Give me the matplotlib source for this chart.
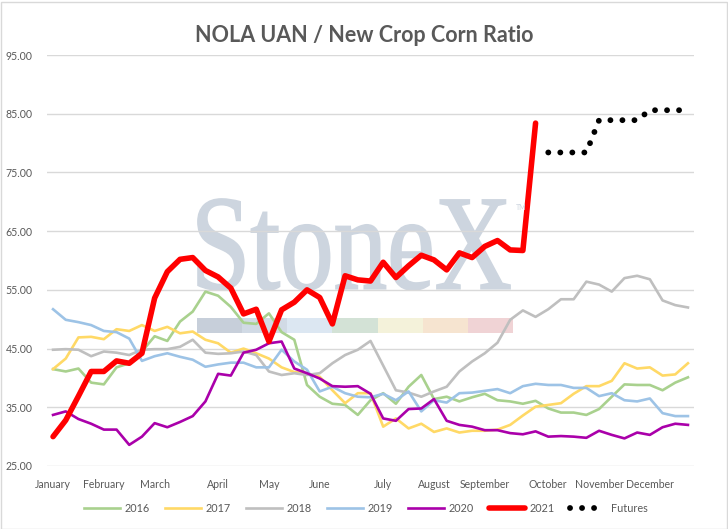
import numpy as np
import matplotlib
matplotlib.use("Agg")
import matplotlib.pyplot as plt
from matplotlib.patches import PathPatch, Rectangle
from matplotlib.textpath import TextPath
from matplotlib.font_manager import FontProperties
from matplotlib.transforms import Affine2D

# Týdenní poměr NOLA UAN / new crop kukuřice (51 týdnů)
months = ['January', 'February', 'March', 'April', 'May', 'June', 'July',
          'August', 'September', 'October', 'November', 'December']
month_week = [0, 4, 8, 13, 17, 21, 26, 30, 34, 39, 43, 47]

y2016 = [41.5, 41.1, 41.6, 39.2, 38.9, 41.8, 42.5, 44.5, 47.1, 46.3, 49.6, 51.3, 54.7,
         54.0, 52.1, 49.4, 49.2, 51.0, 47.8, 46.5, 38.8, 36.8, 35.6, 35.4, 33.7, 36.2,
         37.4, 35.6, 38.5, 40.5, 36.4, 36.8, 36.0, 36.7, 37.3, 36.2, 36.0, 35.6, 36.1,
         34.8, 34.1, 34.1, 33.7, 34.7, 36.8, 38.9, 38.8, 38.8, 37.9, 39.2, 40.1]
y2017 = [41.5, 43.3, 46.9, 47.0, 46.6, 48.3, 48.0, 49.0, 48.0, 48.7, 47.6, 47.9, 46.5,
         45.9, 44.3, 45.0, 44.2, 43.3, 41.8, 41.0, 40.8, 40.2, 37.9, 35.7, 37.4, 37.4,
         31.7, 33.1, 31.4, 32.2, 30.8, 31.4, 30.7, 31.0, 31.0, 31.2, 32.0, 33.6, 35.1,
         35.4, 35.7, 37.3, 38.6, 38.6, 39.5, 42.5, 41.6, 41.8, 40.4, 40.6, 42.5]
y2018 = [44.8, 44.9, 44.8, 43.7, 44.5, 44.3, 43.9, 44.8, 44.9, 44.9, 45.3, 46.5, 44.3,
         44.1, 44.2, 44.5, 43.9, 41.1, 40.5, 40.8, 40.5, 40.8, 42.5, 43.9, 44.8, 46.3,
         42.1, 37.9, 37.5, 36.8, 37.7, 38.5, 41.1, 42.8, 44.2, 46.0, 49.9, 51.5, 50.4,
         51.7, 53.4, 53.4, 56.4, 55.9, 54.7, 57.0, 57.4, 56.8, 53.2, 52.4, 52.0]
y2019 = [51.7, 49.9, 49.5, 49.0, 48.0, 47.8, 46.7, 42.9, 43.7, 44.2, 43.6, 43.1, 41.9,
         42.3, 42.6, 42.6, 41.8, 41.8, 44.8, 42.8, 41.4, 37.7, 38.5, 37.4, 36.8, 36.7,
         37.3, 36.2, 37.7, 34.3, 36.2, 35.8, 37.4, 37.5, 37.8, 38.1, 37.4, 38.6, 39.0,
         38.8, 38.8, 38.3, 38.3, 36.9, 37.4, 36.2, 36.0, 36.5, 34.0, 33.5, 33.5]
y2020 = [33.7, 34.3, 33.0, 32.2, 31.2, 31.2, 28.6, 30.0, 32.3, 31.6, 32.5, 33.5, 36.0,
         40.7, 40.4, 44.3, 44.8, 45.9, 46.2, 41.6, 40.8, 39.9, 38.6, 38.5, 38.6, 37.3,
         33.1, 32.7, 34.7, 34.8, 36.4, 32.7, 32.0, 31.7, 31.1, 31.1, 30.6, 30.4, 30.9,
         30.0, 30.1, 30.0, 29.8, 31.0, 30.3, 29.7, 30.7, 30.3, 31.6, 32.2, 32.0]
y2021 = [30.0, 32.8, 36.9, 41.1, 41.1, 42.9, 42.5, 44.2, 53.6, 58.1, 60.2, 60.5, 58.3,
         57.2, 55.3, 50.9, 51.7, 46.2, 51.6, 52.9, 55.0, 53.7, 49.2, 57.4, 56.7, 56.5,
         59.7, 57.1, 59.1, 60.9, 60.1, 58.4, 61.3, 60.5, 62.4, 63.4, 61.8, 61.7, 83.4]
futures_start = 39
futures = [78.4, 78.4, 78.4, 78.4, 83.9, 83.9, 83.9, 83.9, 85.6, 85.6, 85.6, 85.6]

W, H = 728, 529
plt.rcParams['font.family'] = ['Lato', 'DejaVu Sans']
txt = '#595959'

fig = plt.figure(figsize=(W / 100, H / 100), dpi=100)
ax = fig.add_axes([46.7 / W, 1 - 466 / H, (694.3 - 46.7) / W, (466 - 55) / H])

# vodoznak StoneX
fp = FontProperties(family='Liberation Serif')
tp = TextPath((0, 0), 'StoneX', size=100, prop=fp)
ext = tp.get_extents()
x0, x1, yb, yt = 198, 510, H - 290, H - 199
tr = (Affine2D().translate(-ext.x0, -ext.y0)
      .scale((x1 - x0) / ext.width, (yt - yb) / ext.height)
      .translate(x0, yb).scale(1 / W, 1 / H) + fig.transFigure)
ax.add_patch(PathPatch(tp, transform=tr, facecolor='#CDD5DF', edgecolor='#CDD5DF', lw=1.3,
                       zorder=0.1, clip_on=False))
fig.text(516 / W, 1 - 210 / H, 'TM', fontsize=5, color='#CDD5DF', zorder=0.1)
bar_cols = ['#C7CFDA', '#D1DAE5', '#DCE7F2', '#D3E2D6', '#F4F2DA', '#F6E4D0', '#F0D3D5']
seg = (513 - 197) / len(bar_cols)
for i, c in enumerate(bar_cols):
    ax.add_patch(Rectangle(((197 + i * seg) / W, 1 - 333.3 / H), seg / W, 15.6 / H,
                           transform=fig.transFigure, facecolor=c, edgecolor='none',
                           zorder=0.1, clip_on=False))

wk = np.arange(len(y2016))
ax.plot(wk, y2016, color='#A9D18E', lw=1.9, label='2016', zorder=3)
ax.plot(wk, y2017, color='#FFD966', lw=1.9, label='2017', zorder=3)
ax.plot(wk, y2018, color='#BFBFBF', lw=1.9, label='2018', zorder=3)
ax.plot(wk, y2019, color='#9DC3E6', lw=1.9, label='2019', zorder=3)
ax.plot(wk, y2020, color='#AA00AA', lw=1.9, label='2020', zorder=3)
ax.plot(np.arange(len(y2021)), y2021, color='#FF0000', lw=4, label='2021', zorder=4,
        solid_joinstyle='round', solid_capstyle='round')
ax.plot(np.arange(futures_start, futures_start + len(futures)), futures, color='black',
        lw=4.2, ls=(0, (0.01, 2.05)), dash_capstyle='round', label='Futures', zorder=4)

ax.set_xlim(-0.5, len(wk) - 0.5)
ax.set_ylim(25, 95)
ax.set_yticks(np.arange(25, 96, 10))
ax.set_yticklabels([f'{v:.2f}' for v in np.arange(25, 96, 10)])
ax.set_xticks(month_week)
ax.set_xticklabels(months)
ax.tick_params(length=0, labelsize=7.6, colors=txt)
ax.tick_params(axis='y', pad=10)
ax.tick_params(axis='x', pad=9)
ax.grid(axis='y', color='#D9D9D9', lw=1)
ax.set_axisbelow(True)
for s in ax.spines.values():
    s.set_visible(False)

fig.text(364 / W, 1 - 36 / H, 'NOLA UAN / New Crop Corn Ratio', ha='center', va='center',
         fontsize=15.5, fontweight='bold', color=txt)

ax.legend(loc='center', bbox_to_anchor=(366 / W, 1 - 508.7 / H), bbox_transform=fig.transFigure,
          ncol=7, frameon=False, fontsize=7.8, labelcolor=txt, handlelength=3.3,
          handletextpad=0.45, columnspacing=1.4)

fig.add_artist(Rectangle((0.5 / W, 0.5 / H), (W - 2) / W, (H - 2) / H, transform=fig.transFigure,
                         fill=False, edgecolor='#D9D9D9', lw=1))
fig.savefig('out.png', dpi=100)
